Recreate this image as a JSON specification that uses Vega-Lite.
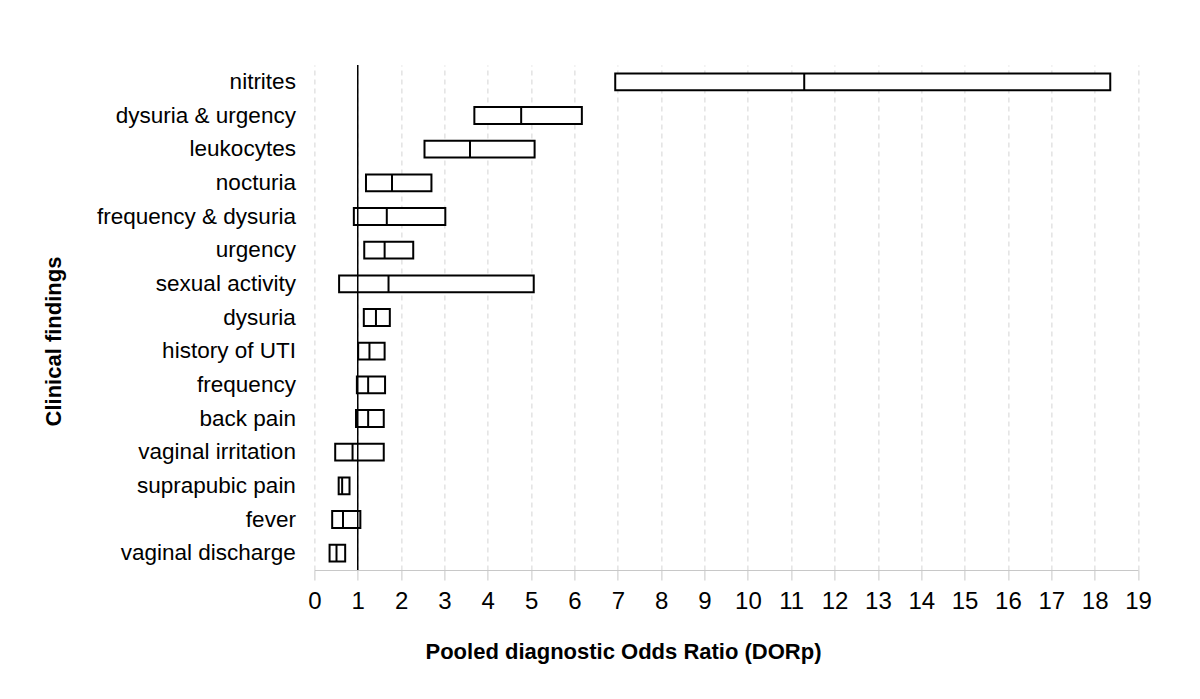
{
  "$schema": "https://vega.github.io/schema/vega-lite/v6.json",
  "autosize": {"type": "none"},
  "width": 823.6,
  "height": 505,
  "padding": {"left": 314.4, "top": 65, "right": 62, "bottom": 129},
  "background": "white",
  "config": {"view": {"stroke": null}, "font": "Liberation Sans"},
  "datasets": {
    "findings": [
      {"finding": "nitrites", "lo": 6.94, "med": 11.30, "hi": 18.36},
      {"finding": "dysuria & urgency", "lo": 3.69, "med": 4.77, "hi": 6.17},
      {"finding": "leukocytes", "lo": 2.54, "med": 3.59, "hi": 5.08},
      {"finding": "nocturia", "lo": 1.19, "med": 1.79, "hi": 2.70},
      {"finding": "frequency & dysuria", "lo": 0.91, "med": 1.67, "hi": 3.02},
      {"finding": "urgency", "lo": 1.15, "med": 1.62, "hi": 2.28},
      {"finding": "sexual activity", "lo": 0.57, "med": 1.71, "hi": 5.06},
      {"finding": "dysuria", "lo": 1.14, "med": 1.42, "hi": 1.74},
      {"finding": "history of UTI", "lo": 1.01, "med": 1.27, "hi": 1.62},
      {"finding": "frequency", "lo": 0.98, "med": 1.24, "hi": 1.63},
      {"finding": "back pain", "lo": 0.96, "med": 1.24, "hi": 1.60},
      {"finding": "vaginal irritation", "lo": 0.48, "med": 0.88, "hi": 1.60},
      {"finding": "suprapubic pain", "lo": 0.56, "med": 0.64, "hi": 0.81},
      {"finding": "fever", "lo": 0.41, "med": 0.66, "hi": 1.06},
      {"finding": "vaginal discharge", "lo": 0.35, "med": 0.51, "hi": 0.71}
    ],
    "ref": [{"x": 1}]
  },
  "layer": [
    {
      "data": {"name": "findings"},
      "mark": {"type": "bar", "fill": "white", "stroke": "black", "strokeWidth": 2, "height": {"band": 0.5}},
      "encoding": {
        "y": {
          "field": "finding", "type": "nominal", "sort": null,
          "scale": {"paddingInner": 0, "paddingOuter": 0},
          "axis": {
            "title": "Clinical findings",
            "titleFontSize": 22, "titleFontWeight": "bold", "titleColor": "black",
            "titleAngle": -90, "titleBaseline": "alphabetic", "titleAlign": "center",
            "titleX": -253.5, "titleY": 276,
            "labelFontSize": 22.5, "labelColor": "black", "labelPadding": 19, "labelLimit": 400,
            "ticks": false, "domain": false, "grid": false
          }
        },
        "x": {
          "field": "lo", "type": "quantitative",
          "scale": {"domain": [0, 19], "nice": false, "zero": true},
          "axis": {
            "title": "Pooled diagnostic Odds Ratio (DORp)",
            "titleFontSize": 22, "titleFontWeight": "bold", "titleColor": "black",
            "titleBaseline": "alphabetic", "titleX": 308.6, "titleY": 88,
            "values": [0,1,2,3,4,5,6,7,8,9,10,11,12,13,14,15,16,17,18,19],
            "labelFontSize": 24, "labelColor": "black", "labelPadding": 9,
            "labelFlush": false, "labelOverlap": false,
            "tickSize": 10, "tickColor": "#c8c8c8", "tickWidth": 1,
            "domainColor": "#c8c8c8", "domainWidth": 1,
            "grid": true, "gridColor": "#d4d4d4", "gridDash": [5, 4], "gridWidth": 1
          }
        },
        "x2": {"field": "hi"}
      }
    },
    {
      "data": {"name": "findings"},
      "mark": {"type": "tick", "color": "black", "opacity": 1, "thickness": 2, "size": 17, "orient": "vertical"},
      "encoding": {
        "y": {"field": "finding", "type": "nominal", "sort": null},
        "x": {"field": "med", "type": "quantitative"}
      }
    },
    {
      "data": {"name": "ref"},
      "mark": {"type": "rule", "color": "black", "strokeWidth": 1.5},
      "encoding": {
        "x": {"field": "x", "type": "quantitative"}
      }
    }
  ]
}
